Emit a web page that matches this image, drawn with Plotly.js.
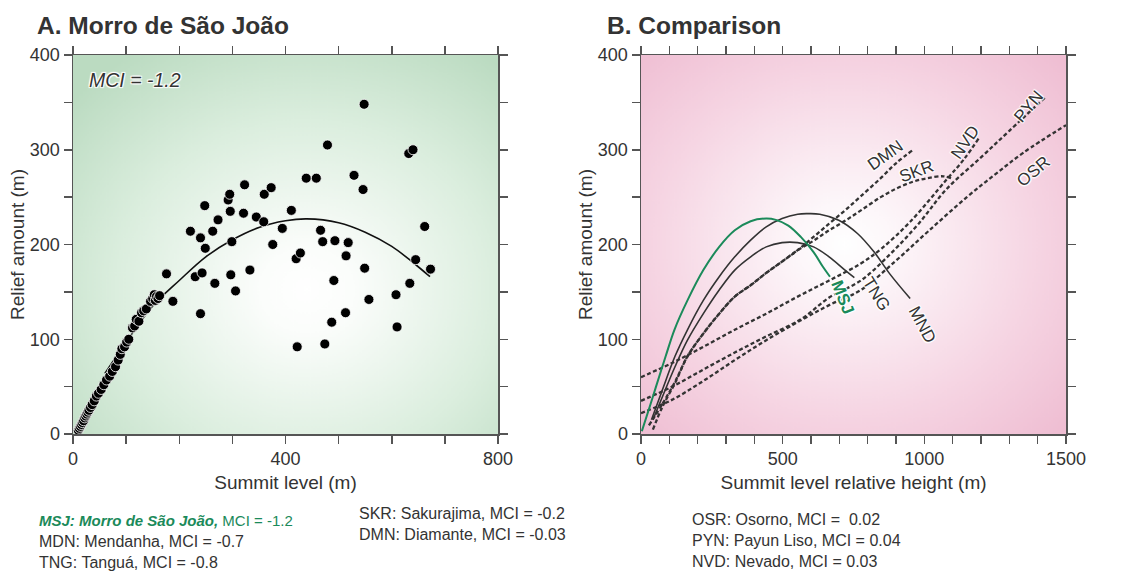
<!DOCTYPE html>
<html><head><meta charset="utf-8">
<script src="https://cdn.plot.ly/plotly-3.0.1.min.js"></script>
<style>body{margin:0;background:#fff}#chart{width:1121px;height:580px}</style>
</head><body><div id="chart"></div>
<script>
// ---------- Panel A: Morro de São João (summit level vs relief amount) ----------
const msjPointsX = [10,12,14,16,18,20,22,24,26,28,30,33,36,40,44,48,53,58,63,69,74,80,85,89,92,97,101,105,112,116,119,124,129,133,138,146,150,153,155,157,160,163,176,188,221,230,240,240,243,248,249,263,267,273,292,295,296,297,299,306,321,323,333,345,359,360,373,376,394,411,420,422,428,439,458,466,470,474,479,487,491,493,513,514,518,529,546,548,549,557,608,610,632,634,640,645,662,673];
const msjPointsY = [4,6,8,10,12,14,17,19,21,23,25,28,31,35,40,43,47,52,57,61,66,71,78,84,90,92,97,100,112,114,121,119,128,130,132,140,143,147,141,145,143,146,169,140,214,166,207,127,170,241,196,214,159,226,247,253,235,168,203,151,233,263,173,229,224,253,260,200,217,236,185,92,191,270,270,215,203,95,305,118,162,204,128,188,202,273,258,348,175,142,147,113,296,159,300,184,219,174];
const msjFitX = [60,100,150,200,250,300,350,400,440,500,550,600,640,672];
const msjFitY = [64,97,135,162,187,205,218,225,227,223,213,198,181,166];

// ---------- Panel B: comparison curves (summit level relative height vs relief) ----------
const bMsjX = [3,31,53,87,118,164,220,276,331,387,442,476,520,564,609,642,667];
const bMsjY = [3,29,50,82,110,141,173,197.5,215,224.6,227.4,226,220,208,192,176.5,166];
const mndX = [37,76,120,164,220,276,331,387,442,498,553,587,631,698,764,823,878,950];
const mndY = [15,47,82,110,141,166,187,204.6,218.6,227.4,232,232.6,232,225.6,211.6,192,169,143];
const tngX = [42,76,120,164,220,276,331,387,442,498,553,609,664,720,753];
const tngY = [15,39.6,71,99,127,152,173,187,197.5,202,202,197.5,187,173,165];
const dmnX = [42,76,120,164,220,276,331,387,442,498,553,609,664,720,776,846,901,961];
const dmnY = [4.6,29,53.7,82,106,127,145,157,170,182,194,208,222,236,251,270,286,300];
const skrX = [28,76,120,164,220,276,331,387,442,498,553,609,664,720,776,846,901,957,1011,1066,1095];
const skrY = [9,32,55,82,106,127,145,157,170,182,194,204,215,225,236,250,259,266,270,272,270];
const nvdX = [0,110,220,331,442,553,664,776,850,950,1077,1140,1192];
const nvdY = [60,75,92,110,127,145,162,180,196,224,268,290,312];
const pynX = [0,110,220,331,442,564,664,776,880,980,1077,1200,1300,1429];
const pynY = [35,50,68,86,103,121,144,162,190,222,258,292,320,356];
const osrX = [0,109,220,331,442,564,664,776,900,1014,1150,1250,1350,1500];
const osrY = [22,36,56,78,99,120,136,152,183,214,250,274,297,326];

const legendCol1 = ['MDN: Mendanha, MCI = -0.7','TNG: Tanguá, MCI = -0.8'];
const legendCol2 = ['SKR: Sakurajima, MCI = -0.2','DMN: Diamante, MCI = -0.03'];
const legendCol3 = ['OSR: Osorno, MCI =\u00a0 0.02','PYN: Payun Liso, MCI = 0.04','NVD: Nevado, MCI = 0.03'];

const W = 1121, H = 580;
const GREEN = '#1b8a5a', INK = '#333333', AX = '#555555';
const FONT = 'Liberation Sans, Arial, sans-serif';
const HALO = '1px 1px 1px #fff, -1px -1px 1px #fff, 1px -1px 1px #fff, -1px 1px 1px #fff, 0 0 2px #fff';

function grad(cx, cy, stops) {
  const c = document.createElement('canvas'); c.width = 400; c.height = 400;
  const ctx = c.getContext('2d');
  const g = ctx.createRadialGradient(cx*400, cy*400, 0, cx*400, cy*400, 300);
  stops.forEach(s => g.addColorStop(s[0], s[1]));
  ctx.fillStyle = g; ctx.fillRect(0,0,400,400);
  return c.toDataURL();
}
const greenBg = grad(0.55, 0.62, [[0,'#ffffff'],[0.15,'#fbfdfb'],[0.6,'#dbeede'],[1,'#bbdbc1']]);
const pinkBg = grad(0.48, 0.5, [[0,'#ffffff'],[0.15,'#fdf7fa'],[0.6,'#f6d5e3'],[1,'#eebad0']]);

const TICKF = {family:FONT, size:18, color:INK};
const TITLEF = {family:FONT, size:19, color:INK};
function axisBase(extra) {
  return Object.assign({
    showline:true, linecolor:AX, linewidth:1.5, mirror:'ticks',
    ticks:'outside', ticklen:8, tickwidth:1.5, tickcolor:AX,
    showgrid:false, zeroline:false, automargin:false,
    tickfont:TICKF
  }, extra);
}
function minor(d) { return {dtick:d, ticks:'outside', ticklen:8, tickwidth:1.5, tickcolor:AX, showgrid:false}; }
const yDom = [(H-434)/H, (H-55)/H];

const dashLine = {color:'#333', width:2.3, dash:'4px,2.5px', shape:'spline'};
function dashed(x, y) { return {x, y, xaxis:'x2', yaxis:'y2', mode:'lines', line:dashLine, hoverinfo:'skip'}; }

const traces = [
  {x:msjFitX, y:msjFitY, xaxis:'x', yaxis:'y', mode:'lines', line:{color:'#111', width:1.6, shape:'spline'}},
  {x:msjPointsX, y:msjPointsY, xaxis:'x', yaxis:'y', mode:'markers', marker:{size:10, color:'#000', line:{color:'#ffffff', width:0.8}}},
  dashed(dmnX, dmnY), dashed(skrX, skrY), dashed(nvdX, nvdY), dashed(pynX, pynY), dashed(osrX, osrY),
  {x:mndX, y:mndY, xaxis:'x2', yaxis:'y2', mode:'lines', line:{color:'#333', width:1.6, shape:'spline'}},
  {x:tngX, y:tngY, xaxis:'x2', yaxis:'y2', mode:'lines', line:{color:'#333', width:1.6, shape:'spline'}},
  {x:bMsjX, y:bMsjY, xaxis:'x2', yaxis:'y2', mode:'lines', line:{color:GREEN, width:2, shape:'spline'}}
];

function lab(text, x, y, ang, opts) {
  return Object.assign({xref:'x2', yref:'y2', x, y, text, textangle:ang, showarrow:false,
    font:{family:FONT, size:17, color:INK, shadow:HALO}}, opts||{});
}
function ptxt(text, px, py, opts) {
  return Object.assign({xref:'paper', yref:'paper', x:px/W, y:1-py/H, text, showarrow:false,
    xanchor:'left', yanchor:'middle', font:{family:FONT, size:16, color:INK}}, opts||{});
}

const annotations = [
  ptxt('<b>A. Morro de São João</b>', 35, 25, {font:{family:FONT, size:24.5, color:INK}}),
  ptxt('<b>B. Comparison</b>', 605, 25, {font:{family:FONT, size:24.5, color:INK}}),
  ptxt('<i>MCI = -1.2</i>', 87, 80, {font:{family:FONT, size:19.5, color:INK, shadow:HALO}}),
  lab('DMN', 862, 294, -35), lab('SKR', 972, 277, -20), lab('NVD', 1143, 308, -55),
  lab('PYN', 1368, 346, -50), lab('OSR', 1385, 277, -40),
  lab('<b>MSJ</b>', 712, 144, 68, {font:{family:FONT, size:17, color:GREEN, shadow:HALO}}),
  lab('TNG', 831, 147, 58), lab('MND', 995, 115, 62),
  ptxt('<b><i>MSJ: Morro de São João,</i></b> MCI = -1.2', 37, 520, {font:{family:FONT, size:15, color:GREEN}}),
  ptxt(legendCol1[0], 37, 541), ptxt(legendCol1[1], 37, 562),
  ptxt(legendCol2[0], 357, 513), ptxt(legendCol2[1], 357, 534),
  ptxt(legendCol3[0], 690, 519), ptxt(legendCol3[1], 690, 540), ptxt(legendCol3[2], 690, 561)
];

const layout = {
  width:W, height:H, margin:{l:0, r:0, t:0, b:0},
  paper_bgcolor:'#ffffff', plot_bgcolor:'rgba(0,0,0,0)', showlegend:false,
  font:{family:FONT, color:INK},
  xaxis: axisBase({domain:[73/W, 498/W], range:[0,800], dtick:400, tick0:0, minor:minor(100),
    anchor:'y', title:{text:'Summit level (m)', font:TITLEF, standoff:7}}),
  yaxis: axisBase({domain:yDom, range:[0,400], dtick:100, tick0:0, minor:minor(50),
    anchor:'x', title:{text:'Relief amount (m)', font:TITLEF, standoff:0}}),
  xaxis2: axisBase({domain:[641/W, 1066/W], range:[0,1500], dtick:500, tick0:0, minor:minor(100),
    anchor:'y2', title:{text:'Summit level relative height (m)', font:TITLEF, standoff:7}}),
  yaxis2: axisBase({domain:yDom, range:[0,400], dtick:100, tick0:0, minor:minor(50),
    anchor:'x2', title:{text:'Relief amount (m)', font:TITLEF, standoff:0}}),
  images:[
    {source:greenBg, xref:'x domain', yref:'y domain', x:0, y:1, sizex:1, sizey:1, sizing:'stretch', layer:'below', xanchor:'left', yanchor:'top'},
    {source:pinkBg, xref:'x2 domain', yref:'y2 domain', x:0, y:1, sizex:1, sizey:1, sizing:'stretch', layer:'below', xanchor:'left', yanchor:'top'}
  ],
  annotations
};
Plotly.newPlot('chart', traces, layout, {displayModeBar:false, staticPlot:true});
</script></body></html>
